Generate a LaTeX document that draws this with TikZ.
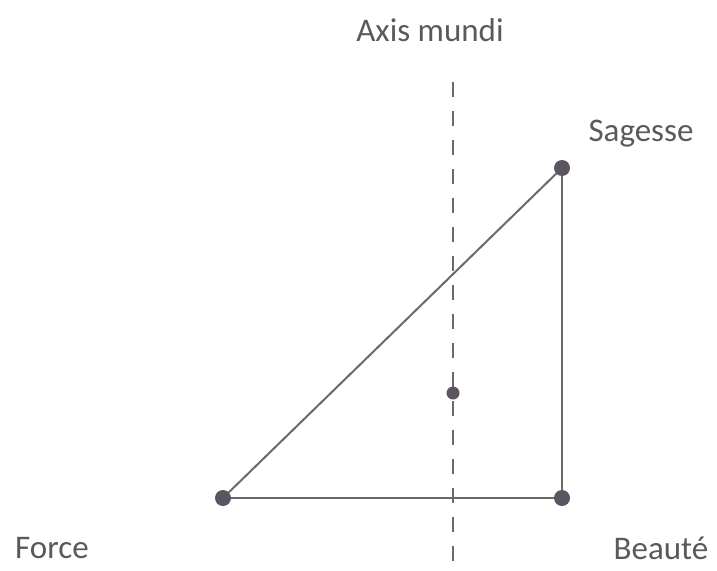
\documentclass[tikz,border=0pt]{standalone}
\usepackage{fontspec}
\setmainfont{Carlito}
\definecolor{txt}{HTML}{5A5A5A}
\definecolor{ln}{HTML}{6A6A6A}
\definecolor{dot}{HTML}{5B5562}
\begin{document}
\begin{tikzpicture}[x=1pt,y=1pt,
  lbl/.style={font=\fontsize{33}{36}\selectfont, text=txt, inner sep=0pt},
  pt/.style={circle, fill=dot, inner sep=0pt, minimum size=16pt},
  smallpt/.style={circle, fill=dot, inner sep=0pt, minimum size=13pt},
  edge/.style={draw=ln, line width=2pt},
  axis/.style={draw=ln, line width=2.2pt, dash pattern=on 15pt off 14pt}]
\useasboundingbox (0,0) rectangle (717,-570);
\fill[white] (0,0) rectangle (717,-570);
\coordinate (atop) at (453,-82);
\coordinate (abot) at (453,-570);
\draw[axis] (atop) -- (abot);
\node[pt] (S) at (562,-168) {};
\node[pt] (F) at (223,-498) {};
\node[pt] (B) at (562,-498) {};
\node[smallpt] (C) at (453,-393) {};
\draw[edge] (F) -- (S);
\draw[edge] (S) -- (B);
\draw[edge] (F) -- (B);
\node[lbl] (ax) at (430,-30) {Axis mundi};
\node[lbl] (ls) at (641,-134) {Sagesse};
\node[lbl] (lf) at (52,-548) {Force};
\node[lbl] (lb) at (661,-548) {Beauté};
\end{tikzpicture}
\end{document}
